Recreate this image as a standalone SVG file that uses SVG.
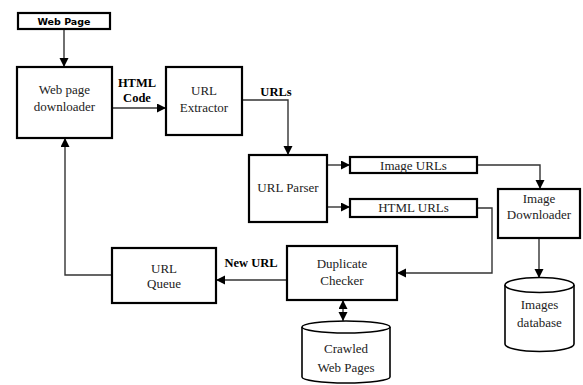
<svg xmlns="http://www.w3.org/2000/svg" width="583" height="385" viewBox="0 0 583 385">
<style>
.box{fill:#fff;stroke:#000;stroke-width:2.2}
.cyl{fill:#fff;stroke:#000;stroke-width:1.6}
.t{font-family:"Liberation Serif","Times New Roman","DejaVu Serif",serif;font-size:13px;fill:#222;text-anchor:middle}
.b{font-family:"Liberation Serif","Times New Roman","DejaVu Serif",serif;font-size:12.5px;font-weight:bold;fill:#000;text-anchor:middle}
.s{font-family:"DejaVu Sans",Verdana,sans-serif;font-size:9.5px;font-weight:bold;fill:#000;text-anchor:middle}
.c{fill:none;stroke:#333;stroke-width:1.4}
</style>
<defs>
<marker id="ah" markerUnits="userSpaceOnUse" markerWidth="10" markerHeight="10" refX="9" refY="4.5" orient="auto-start-reverse">
<path d="M0,0 L9,4.5 L0,9 Z" fill="#000"/>
</marker>
</defs>
<g id="connectors">
<path class="c" d="M64,29 V67" marker-end="url(#ah)"/>
<path class="c" d="M112,108 H166" marker-end="url(#ah)"/>
<path class="c" d="M242,100 H288 V155" marker-end="url(#ah)"/>
<path class="c" d="M327,165 H350" marker-end="url(#ah)"/>
<path class="c" d="M327,207 H350" marker-end="url(#ah)"/>
<path class="c" d="M477,165 H540 V189" marker-end="url(#ah)"/>
<path class="c" d="M477,208 H492 V273 H397" marker-end="url(#ah)"/>
<path class="c" d="M287,280 H216" marker-end="url(#ah)"/>
<path class="c" d="M112,275 H65 V138" marker-end="url(#ah)"/>
<path class="c" d="M539,238 V278" marker-end="url(#ah)"/>
<path class="c" d="M343,300 V321" marker-start="url(#ah)" marker-end="url(#ah)"/>
<text class="b" x="137" y="87">HTML</text>
<text class="b" x="137" y="102">Code</text>
<text class="b" x="276" y="96">URLs</text>
<text class="b" x="251" y="267">New URL</text>
</g>
<g id="web-page">
<rect class="box" x="18" y="13" width="92" height="16"/>
<text class="s" x="64" y="25">Web Page</text>
</g>
<g id="downloader">
<rect class="box" x="17" y="67" width="95" height="71"/>
<text class="t" x="64.5" y="94">Web page</text>
<text class="t" x="64.5" y="111">downloader</text>
</g>
<g id="extractor">
<rect class="box" x="166" y="67" width="76" height="68"/>
<text class="t" x="204" y="95">URL</text>
<text class="t" x="204" y="112">Extractor</text>
</g>
<g id="parser">
<rect class="box" x="249" y="155" width="78" height="67"/>
<text class="t" x="288" y="192">URL Parser</text>
</g>
<g id="image-urls">
<rect class="box" x="350" y="157" width="127" height="16"/>
<text class="t" x="413.5" y="170">Image URLs</text>
</g>
<g id="html-urls">
<rect class="box" x="350" y="199" width="127" height="18"/>
<text class="t" x="413.5" y="212">HTML URLs</text>
</g>
<g id="image-downloader">
<rect class="box" x="498" y="189" width="82" height="49"/>
<text class="t" x="539" y="203">Image</text>
<text class="t" x="539" y="219">Downloader</text>
</g>
<g id="duplicate-checker">
<rect class="box" x="287" y="246" width="110" height="54"/>
<text class="t" x="342" y="268">Duplicate</text>
<text class="t" x="342" y="285">Checker</text>
</g>
<g id="url-queue">
<rect class="box" x="112" y="248" width="104" height="55"/>
<text class="t" x="164" y="273">URL</text>
<text class="t" x="164" y="288">Queue</text>
</g>
<g id="images-database">
<path class="cyl" d="M505,285 V344 A34.5,7.5 0 0 0 574,344 V285"/>
<ellipse class="cyl" cx="539.5" cy="285" rx="34.5" ry="7.5"/>
<text class="t" x="539.5" y="309">Images</text>
<text class="t" x="539.5" y="327">database</text>
</g>
<g id="crawled-pages">
<path class="cyl" d="M302,327 V377 A44,6 0 0 0 390,377 V327"/>
<ellipse class="cyl" cx="346" cy="327" rx="44" ry="6"/>
<text class="t" x="346" y="353">Crawled</text>
<text class="t" x="346" y="372">Web Pages</text>
</g>
</svg>
